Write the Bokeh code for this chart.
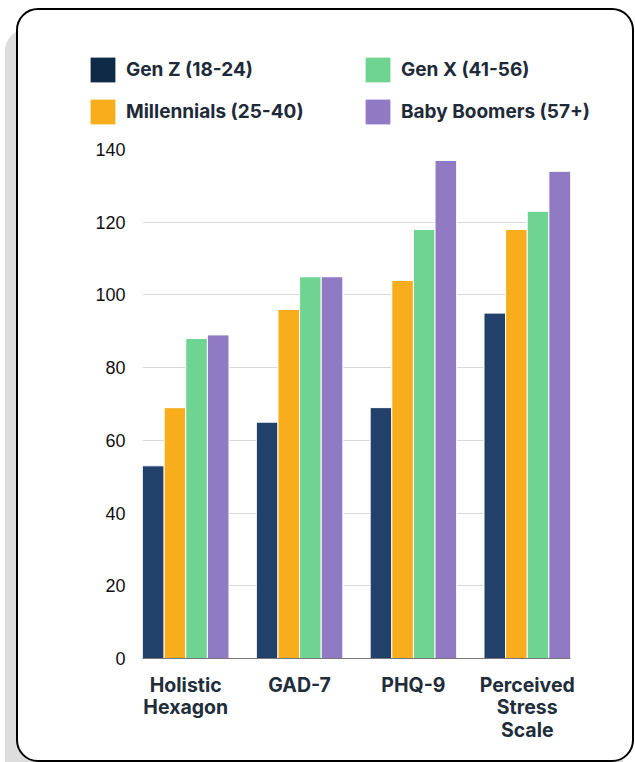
from bokeh.plotting import figure
from bokeh.layouts import column
from bokeh.models import Range1d, FixedTicker, Legend, LegendItem
from bokeh.embed import file_html
from bokeh.resources import INLINE

# Survey scores by assessment and generation
categories = ["Holistic\nHexagon", "GAD-7", "PHQ-9", "Perceived\nStress\nScale"]
series_names = ["Gen Z (18-24)", "Millennials (25-40)", "Gen X (41-56)", "Baby Boomers (57+)"]
gen_z = [53, 65, 69, 95]
millennials = [69, 96, 104, 118]
gen_x = [88, 105, 118, 123]
baby_boomers = [89, 105, 137, 134]
y_ticks = [0, 20, 40, 60, 80, 100, 120, 140]
colors = ["#21406a", "#f8ae1c", "#6fd391", "#8f7ac3"]
swatch_colors = ["#0f2a47", "#f8ae1c", "#6fd391", "#8f7ac3"]

series = [gen_z, millennials, gen_x, baby_boomers]

BAR = 0.19          # width of one bar in category units
HALF_GROUP = 2 * BAR

# --- legend strip across the top of the card ---
leg = figure(width=614, height=125, output_backend="svg", toolbar_location=None,
             x_axis_type=None, y_axis_type=None,
             min_border_left=0, min_border_right=0, min_border_top=0, min_border_bottom=0,
             background_fill_color=None, border_fill_color=None)
leg.outline_line_color = None
leg.grid.visible = False
leg.frame_align = False

items = []
for name, color in zip(series_names, swatch_colors):
    # zero-height anchor glyph: only its legend swatch shows
    r = leg.vbar(x=[0], top=[0], bottom=[0], width=0, fill_color=color, line_color=None)
    items.append(LegendItem(label=name, renderers=[r]))

legend = Legend(items=items, location=(69, 8), orientation="vertical",
                nrows=2, spacing=11, padding=0, margin=0,
                glyph_width=31, glyph_height=31, label_standoff=8,
                label_width=225,
                label_text_font="Inter", label_text_font_style="bold",
                label_text_font_size="19px", label_text_color="#1e2a38",
                border_line_color=None, background_fill_alpha=0)
leg.add_layout(legend)

# --- grouped bar chart ---
p = figure(
    width=614, height=625,
    x_range=Range1d(-HALF_GROUP, len(categories) - 1 + HALF_GROUP),
    y_range=Range1d(0, 140),
    output_backend="svg", toolbar_location=None,
    min_border_left=124, min_border_right=62,
    min_border_top=14, min_border_bottom=102,
    background_fill_color="white", border_fill_color=None,
)
p.outline_line_color = None
p.frame_align = False

for j, (vals, color) in enumerate(zip(series, colors)):
    xs = [i + (j - 1.5) * BAR for i in range(len(categories))]
    p.vbar(x=xs, top=vals, width=BAR, bottom=0,
           fill_color=color, line_color="white", line_width=1)

# x axis: one tick per assessment
p.xaxis.ticker = FixedTicker(ticks=list(range(len(categories))))
p.xaxis.major_label_overrides = {i: c for i, c in enumerate(categories)}
p.xaxis.major_label_text_font = "Inter"
p.xaxis.major_label_text_font_style = "bold"
p.xaxis.major_label_text_font_size = "19.5px"
p.xaxis.major_label_text_color = "#222d3a"
p.xaxis.major_label_text_line_height = 0.94
p.xaxis.major_label_standoff = 8
p.xaxis.major_tick_line_color = None
p.xaxis.minor_tick_line_color = None
p.xaxis.axis_line_color = "#777777"
p.xaxis.axis_line_width = 1

# y axis
p.yaxis.ticker = FixedTicker(ticks=y_ticks)
p.yaxis.major_label_text_font = "Liberation Sans"
p.yaxis.major_label_text_font_size = "18px"
p.yaxis.major_label_text_color = "#111111"
p.yaxis.major_label_standoff = 17
p.yaxis.major_tick_line_color = None
p.yaxis.major_tick_out = 0
p.yaxis.minor_tick_line_color = None
p.yaxis.axis_line_color = None

p.xgrid.visible = False
p.ygrid.grid_line_color = "#d8d8d8"
p.ygrid.grid_line_width = 1

# white card with rounded corners and an offset grey shadow
card = column(leg, p, spacing=0, styles={
    "margin-left": "16px",
    "margin-top": "8px",
    "border": "2px solid #000000",
    "border-radius": "22px",
    "box-shadow": "-11px 21px 0 0 #dddddd",
    "background-color": "#ffffff",
})

open("out.html", "w").write(file_html(card, INLINE))
